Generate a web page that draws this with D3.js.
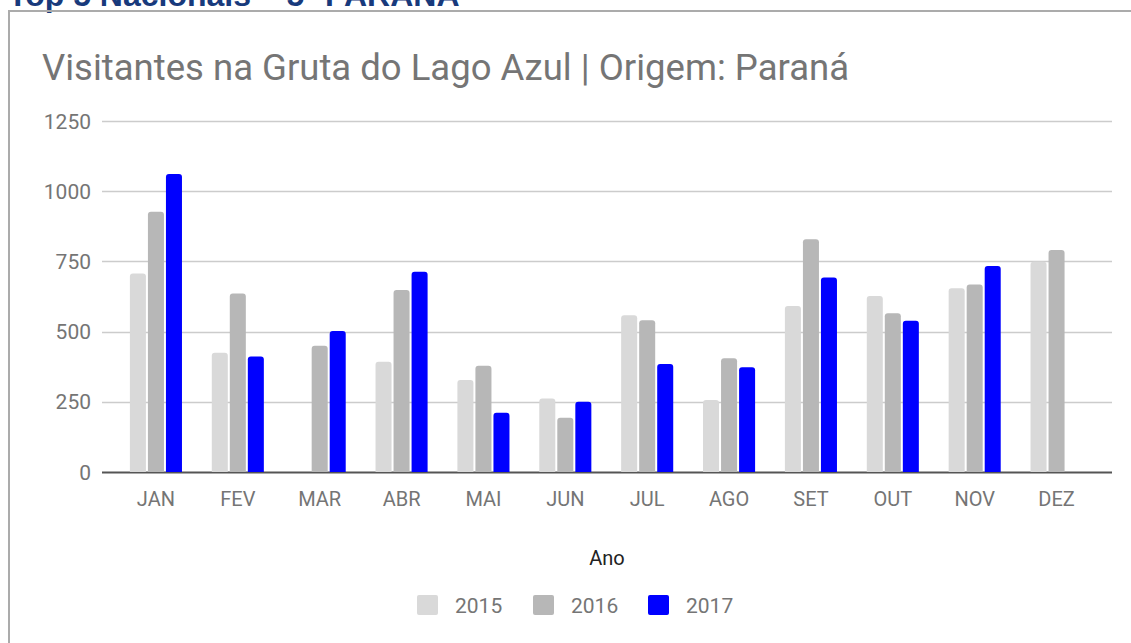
<!DOCTYPE html>
<html>
<head>
<meta charset="utf-8">
<script src="https://cdnjs.cloudflare.com/ajax/libs/d3/7.8.5/d3.min.js"></script>
<style>
  html, body { margin: 0; padding: 0; background: #fff; }
  svg { display: block; font-family: Roboto, "Noto Sans", sans-serif; }
</style>
</head>
<body>
<svg id="chart"></svg>
<script>
// month labels (x axis)
var months = ["JAN", "FEV", "MAR", "ABR", "MAI", "JUN", "JUL", "AGO", "SET", "OUT", "NOV", "DEZ"];
// legend / series names
var years = ["2015", "2016", "2017"];
// visitors per month (null = no bar)
var v2015 = [707, 425, null, 393, 328, 262, 558, 256, 591, 627, 654, 749];
var v2016 = [927, 636, 450, 648, 378, 193, 540, 405, 829, 565, 668, 791];
var v2017 = [1061, 411, 502, 713, 211, 250, 385, 373, 693, 539, 734, null];
var yTicks = [0, 250, 500, 750, 1000, 1250];
var colors = ["#d9d9d9", "#b7b7b7", "#0000ff"];

var svgWidth = 1131, svgHeight = 643;
var series = [v2015, v2016, v2017];

var svg = d3.select("#chart")
    .attr("width", svgWidth)
    .attr("height", svgHeight);

// header, cut off at the top of the page like in the screenshot
svg.append("text")
    .attr("x", 8)
    .attr("y", 6)
    .attr("fill", "#183a7c")
    .style("font-family", "'Liberation Sans', Arial, sans-serif")
    .style("font-weight", "bold")
    .style("font-size", "32px")
    .text("Top 5 Nacionais \u2013 5\u00ba PARAN\u00c1");

// frame around the chart (right and bottom edges fall outside the page)
svg.append("rect")
    .attr("x", 9)
    .attr("y", 11)
    .attr("width", svgWidth + 40)
    .attr("height", svgHeight + 40)
    .attr("fill", "none")
    .attr("stroke", "#ababab")
    .attr("stroke-width", 2);

// title
svg.append("text")
    .attr("x", 42)
    .attr("y", 80)
    .attr("fill", "#757575")
    .style("font-size", "36.5px")
    .text("Visitantes na Gruta do Lago Azul | Origem: Paraná");

var y = d3.scaleLinear()
    .domain([0, 1250])
    .range([472, 121]);

var x0 = d3.scaleBand()
    .domain(months)
    .range([115, 1097.5])
    .paddingInner(0.364)
    .paddingOuter(0.182);

var x1 = d3.scaleBand()
    .domain(years)
    .range([0, x0.bandwidth()])
    .paddingInner(0.111);

// gridlines
svg.append("g")
    .selectAll("line")
    .data(yTicks.slice(1))
    .join("line")
    .attr("x1", 102)
    .attr("x2", 1112)
    .attr("y1", function(d) { return Math.round(y(d)) + 0.5; })
    .attr("y2", function(d) { return Math.round(y(d)) + 0.5; })
    .attr("stroke", "#cccccc")
    .attr("stroke-width", 1.5);

// y tick labels
svg.append("g")
    .selectAll("text")
    .data(yTicks)
    .join("text")
    .attr("x", 91)
    .attr("y", function(d) { return y(d); })
    .attr("dy", "0.36em")
    .attr("text-anchor", "end")
    .attr("fill", "#757575")
    .style("font-size", "21px")
    .text(function(d) { return d; });

// baseline
svg.append("line")
    .attr("x1", 102)
    .attr("x2", 1112)
    .attr("y1", y(0) + 0.5)
    .attr("y2", y(0) + 0.5)
    .attr("stroke", "#555")
    .attr("stroke-width", 2);

// bar with rounded top corners
function barPath(bx, by, bw, bh) {
    var r = Math.min(3, bh / 2);
    return "M" + bx + "," + (by + bh) +
        "V" + (by + r) +
        "Q" + bx + "," + by + " " + (bx + r) + "," + by +
        "H" + (bx + bw - r) +
        "Q" + (bx + bw) + "," + by + " " + (bx + bw) + "," + (by + r) +
        "V" + (by + bh) + "Z";
}

var bars = [];
months.forEach(function(m, i) {
    series.forEach(function(s, j) {
        if (s[i] != null) bars.push({ month: m, year: years[j], value: s[i], idx: j });
    });
});

svg.append("g")
    .selectAll("path")
    .data(bars)
    .join("path")
    .attr("fill", function(d) { return colors[d.idx]; })
    .attr("d", function(d) {
        var bx = x0(d.month) + x1(d.year);
        return barPath(bx, y(d.value), x1.bandwidth(), y(0) - y(d.value));
    });

// x tick labels
svg.append("g")
    .selectAll("text")
    .data(months)
    .join("text")
    .attr("x", function(d) { return x0(d) + x0.bandwidth() / 2; })
    .attr("y", 506)
    .attr("text-anchor", "middle")
    .attr("fill", "#757575")
    .style("font-size", "20px")
    .text(function(d) { return d; });

// axis title
svg.append("text")
    .attr("x", 607)
    .attr("y", 565)
    .attr("text-anchor", "middle")
    .attr("fill", "#222")
    .style("font-size", "20px")
    .text("Ano");

// legend
var legendX = [417, 533, 648];
var legend = svg.append("g")
    .selectAll("g")
    .data(years)
    .join("g")
    .attr("transform", function(d, i) { return "translate(" + legendX[i] + ",595)"; });

legend.append("rect")
    .attr("width", 21)
    .attr("height", 20)
    .attr("rx", 2)
    .attr("fill", function(d, i) { return colors[i]; });

legend.append("text")
    .attr("x", 38)
    .attr("y", 18)
    .attr("fill", "#757575")
    .style("font-size", "21px")
    .text(function(d) { return d; });
</script>
</body>
</html>
